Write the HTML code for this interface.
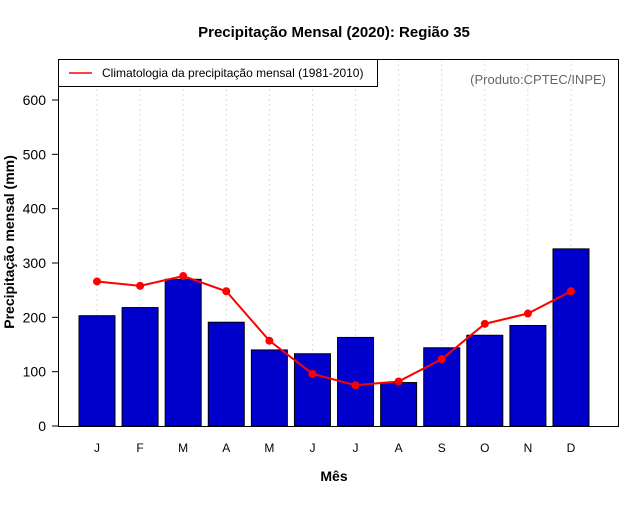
<!DOCTYPE html>
<html><head><meta charset="utf-8"><style>
body{margin:0;background:#fff;}
svg{font-family:"Liberation Sans",sans-serif;}
</style></head><body>
<svg id="c" width="640" height="500">
<text x="334" y="37" text-anchor="middle" font-size="15" font-weight="bold">Precipitação Mensal (2020): Região 35</text>
<text x="334" y="481" text-anchor="middle" font-size="14" font-weight="bold">Mês</text>
<text transform="translate(14,242) rotate(-90)" text-anchor="middle" font-size="14" font-weight="bold">Precipitação mensal (mm)</text>
<g id="grid"></g><g id="bars"></g><g id="line"></g><g id="axes"></g>
<rect x="58.5" y="59.5" width="560" height="367" fill="none" stroke="#000"/>
<g>
<rect x="58.5" y="59.5" width="319" height="27" fill="#fff" stroke="#000"/>
<line x1="69" y1="73" x2="92" y2="73" stroke="red" stroke-width="1.5"/>
<text x="102" y="77" font-size="12">Climatologia da precipitação mensal (1981-2010)</text>
</g>
<text x="606" y="84" text-anchor="end" font-size="13" fill="#666">(Produto:CPTEC/INPE)</text>
</svg>
<script>
const months=["J","F","M","A","M","J","J","A","S","O","N","D"];
const observed=[203,218,270,191,140,133,163,80,144,167,185,326];
const climatology=[266,258,276,248,157,96,75,82,123,188,207,248];
const yTicks=[0,100,200,300,400,500,600];
const NS="http://www.w3.org/2000/svg";
const y=v=>426-v*(326/600);
const x=i=>97+i*43.09;
const bw=36;
function mk(t,a,p){const e=document.createElementNS(NS,t);for(const k in a)e.setAttribute(k,a[k]);document.getElementById(p).appendChild(e);return e;}
months.forEach((m,i)=>{
 const g=mk("line",{x1:x(i),x2:x(i),y1:59,y2:426,stroke:"#ddd","stroke-dasharray":"2,3"},"grid");
 
 
 const b=mk("rect",{x:x(i)-bw/2,y:y(observed[i]),width:bw,height:426-y(observed[i]),fill:"#0000cd",stroke:"#000"},"bars");
 
 
 const t=mk("text",{x:x(i),y:452,"text-anchor":"middle","font-size":12},"axes");
 t.textContent=m;
 
 
});
const pl=mk("polyline",{points:climatology.map((v,i)=>x(i)+","+y(v)).join(" "),fill:"none",stroke:"red","stroke-width":2},"line");


climatology.forEach((v,i)=>{
 const c=mk("circle",{cx:x(i),cy:y(v),r:4,fill:"red"},"line");
 
 
});
yTicks.forEach(v=>{
 const l=mk("line",{x1:52,x2:58,y1:y(v),y2:y(v),stroke:"#000"},"axes");
 
 
 const t=mk("text",{x:46,y:y(v)+5,"text-anchor":"end","font-size":14},"axes");
 t.textContent=v;
 
 
});
</script>
</body></html>
